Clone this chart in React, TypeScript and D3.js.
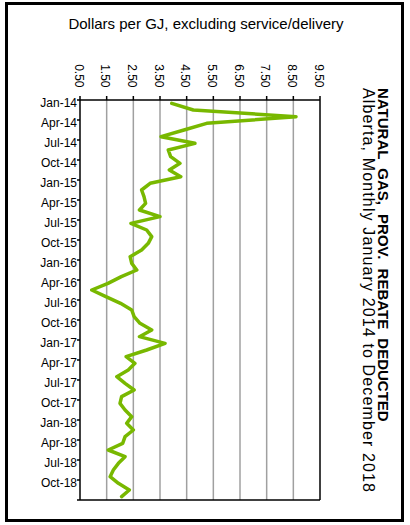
import React from "react";
import * as d3 from "d3";

const years = [2014, 2015, 2016, 2017, 2018];
const monthNames = ["Jan", "Feb", "Mar", "Apr", "May", "Jun", "Jul", "Aug", "Sep", "Oct", "Nov", "Dec"];

const prices2014 = [3.94, 4.75, 8.6, 5.25, 4.4, 3.54, 4.81, 3.81, 3.9, 4.25, 3.85, 4.28];
const prices2015 = [3.13, 2.81, 2.9, 2.96, 2.73, 3.5, 2.41, 3.0, 3.19, 3.06, 2.81, 2.38];
const prices2016 = [2.44, 2.63, 2.05, 1.55, 0.94, 1.47, 2.02, 2.44, 2.53, 2.75, 3.19, 2.73];
const prices2017 = [3.69, 3.0, 2.23, 2.56, 2.31, 1.88, 2.19, 2.53, 2.06, 2.0, 2.19, 2.44];
const prices2018 = [2.25, 2.5, 2.19, 2.1, 1.56, 2.19, 1.94, 1.75, 1.63, 1.94, 2.35, 2.06];

const valueTicks = [0.5, 1.5, 2.5, 3.5, 4.5, 5.5, 6.5, 7.5, 8.5, 9.5];

const titleText = "NATURAL GAS, PROV. REBATE DEDUCTED";
const subtitleText = "Alberta, Monthly January 2014 to December 2018";
const unitText = "Dollars per GJ, excluding service/delivery";

const months: string[] = [];
years.forEach((yr) => monthNames.forEach((m) => months.push(`${m}-${String(yr).slice(2)}`)));
const prices = [...prices2014, ...prices2015, ...prices2016, ...prices2017, ...prices2018];
const data = months.map((m, i) => ({ month: m, value: prices[i] }));

export default function App() {
  const left = 80, right = 320, top = 100, bottom = 500;
  const x = d3.scaleLinear().domain([0.5, 9.5]).range([left, right]);
  const y = d3.scaleBand<string>().domain(months).range([top, bottom]);
  const bw = y.bandwidth();
  const line = d3
    .line<{ month: string; value: number }>()
    .x((d) => x(d.value))
    .y((d) => (y(d.month) as number) + bw / 2);
  const fmt = d3.format(".2f");
  const font = "'Liberation Sans', Arial, sans-serif";

  return (
    <svg width={410} height={525} style={{ position: "absolute", left: 0, top: 0, background: "#fff" }} fontFamily={font}>
      <rect x={6.5} y={3.5} width={396} height={517} fill="none" stroke="#000" strokeWidth={3} />
      <text x={206} y={29} fontSize={15} textAnchor="middle" fill="#000">{unitText}</text>

      {valueTicks.slice(1, -1).map((v) => (
        <line key={"g" + v} x1={x(v)} x2={x(v)} y1={top} y2={bottom} stroke="#a0a0a0" strokeWidth={1.5} />
      ))}
      {valueTicks.map((v) => (
        <line key={"t" + v} x1={x(v)} x2={x(v)} y1={top - 4} y2={top} stroke="#000" strokeWidth={1.5} />
      ))}
      {valueTicks.map((v) => (
        <text
          key={"l" + v}
          transform={`translate(${x(v) - 1.5},${87.5}) rotate(90)`}
          fontSize={12}
          textAnchor="end"
          dominantBaseline="central"
          fill="#000"
        >
          {fmt(v)}
        </text>
      ))}

      <line x1={left} x2={right} y1={top} y2={top} stroke="#000" strokeWidth={1.5} />
      <line x1={right} x2={right} y1={top} y2={bottom} stroke="#000" strokeWidth={1.5} />
      <line x1={left - 3} x2={right} y1={bottom} y2={bottom} stroke="#000" strokeWidth={1.5} />
      <line x1={left} x2={left} y1={top} y2={bottom} stroke="#000" strokeWidth={1.5} />

      {months.map((m, i) =>
        i % 3 === 0 ? (
          <g key={"m" + m}>
            <line x1={left - 3} x2={left} y1={y(m) as number} y2={y(m) as number} stroke="#000" strokeWidth={1.5} />
            <text x={77} y={(y(m) as number) + bw / 2} fontSize={12} textAnchor="end" dominantBaseline="central" fill="#000">
              {m}
            </text>
          </g>
        ) : null
      )}

      <path d={line(data) || ""} fill="none" stroke="#78b800" strokeWidth={3.5} strokeLinejoin="round" strokeLinecap="round" />

      <text transform="translate(378,88) rotate(90)" fontSize={15} fontWeight="bold" fill="#000" wordSpacing={5}>
        {titleText}
      </text>
      <text transform="translate(363,88) rotate(90)" fontSize={16} fill="#000" textLength={404} lengthAdjust="spacing">
        {subtitleText}
      </text>
    </svg>
  );
}
